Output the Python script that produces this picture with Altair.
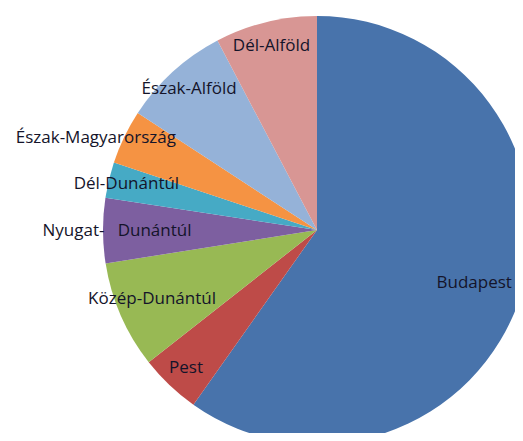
import altair as alt
import pandas as pd

regions = ["Budapest", "Pest", "Közép-Dunántúl", "Nyugat-\u00a0\u00a0 Dunántúl", "Dél-Dunántúl",
           "Észak-Magyarország", "Észak-Alföld", "Dél-Alföld"]
shares = [59.8, 4.6, 8.1, 4.9, 2.7, 4.1, 8.1, 7.7]
colors = ["#4873AB", "#BE4B48", "#98B954", "#7D5FA0", "#46AAC5", "#F59343", "#95B2D8", "#D89694"]

df = pd.DataFrame({"region": regions, "share": shares, "idx": list(range(len(regions)))})

CX, CY = 309, 222

pie = alt.Chart(df).mark_arc(radius=214).encode(
    theta=alt.Theta("share:Q", stack=True),
    order=alt.Order("idx:Q"),
    color=alt.Color("region:N", scale=alt.Scale(domain=regions, range=colors), legend=None),
    x=alt.value(CX),
    y=alt.value(CY),
)

label_base = alt.Chart(df).transform_window(
    cum="sum(share)", sort=[alt.SortField("idx", order="ascending")]
).transform_calculate(mid="datum.cum - datum.share / 2")


def label_layer(radius, names, dx=0, dy=0):
    return label_base.transform_filter(
        alt.FieldOneOfPredicate(field="region", oneOf=names)
    ).mark_text(
        radius=radius, font="Open Sans", fontSize=17, color="#14142a",
        align="center", baseline="middle", dx=dx, dy=dy,
    ).encode(
        theta=alt.Theta("mid:Q", stack=None),
        text="region:N",
        x=alt.value(CX),
        y=alt.value(CY),
    )


labels = [
    label_layer(165, ["Budapest"], dy=3),
    label_layer(180, ["Közép-Dunántúl"], dy=-3),
    label_layer(240, ["Észak-Magyarország"], dx=-5, dy=12),
    label_layer(200, ["Nyugat-\u00a0\u00a0 Dunántúl"]),
    label_layer(196, ["Dél-Dunántúl"]),
    label_layer(190, ["Pest", "Észak-Alföld", "Dél-Alföld"]),
]

chart = alt.layer(pie, *labels).properties(
    width=507, height=425, padding=0,
    autosize=alt.AutoSizeParams(type="none"),
).configure_view(strokeWidth=0)

chart.save("out.html", embed_options={"renderer": "svg", "actions": False})
